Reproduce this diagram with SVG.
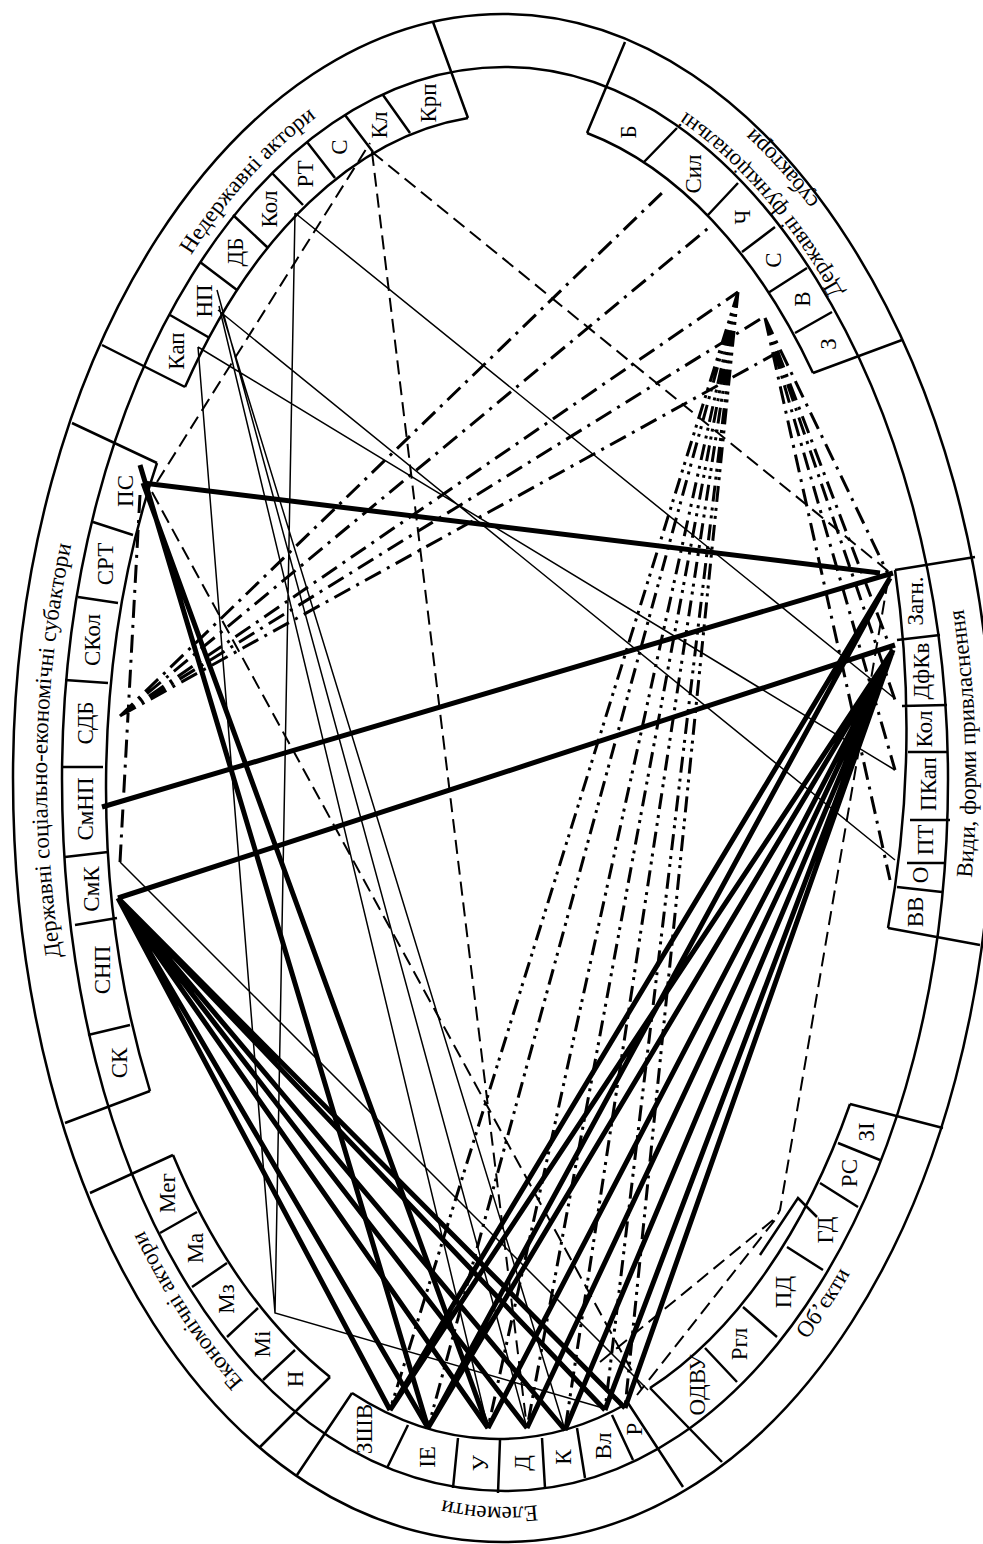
<svg xmlns="http://www.w3.org/2000/svg" width="983" height="1544" viewBox="0 0 983 1544">
<style>
.ol{fill:none;stroke:#000;stroke-width:2.5}
.sp{stroke:#000;stroke-width:2.5;fill:none}
text{font-family:"Liberation Serif","Times New Roman",serif;font-size:23px;fill:#000}
.sl{text-anchor:middle}
.th{stroke:#000;stroke-width:5;fill:none}
.tn{stroke:#000;stroke-width:1.5;fill:none}
.da{stroke:#000;stroke-width:2;stroke-dasharray:14 7;fill:none}
.dd{stroke:#000;stroke-width:3;stroke-dasharray:18 7 3 7;fill:none}
.d2{stroke:#000;stroke-width:3;stroke-dasharray:16 6 3 5 3 6;fill:none}
</style>
<defs>
<path id="p1" d="M191,255.3 A452,728 0 0 1 731,148.5"/>
<path id="p2a" d="M843.1,292.6 A455,727 0 0 0 349.4,95.8"/>
<path id="p2b" d="M819.3,201.8 A485,758 0 0 0 339.1,66.7"/>
<path id="p3" d="M60.9,957 A458,728 0 0 1 129.8,361.4"/>
<path id="p4" d="M243.6,1381.7 A458,734 0 0 1 48.7,843"/>
<path id="p5" d="M537.3,1505.1 A452,728 0 0 1 158.8,1247"/>
<path id="p6" d="M807,1339.5 A466,736 0 0 0 963.9,651.2"/>
<path id="p7" d="M971.8,878 A471,739 0 0 0 838,256.5"/>
</defs>
<rect width="983" height="1544" fill="#fff"/>
<g id="frame">
<path class="ol" d="M503,14 C770.1,14 993,361.6 993,778 C993,1209.7 779.9,1542 503,1542 C223.7,1542 13,1213.5 13,778 C13,357.8 233.5,14 503,14 Z"/>
<path class="ol" d="M505,67 C744.2,67 948,394.5 948,779 C948,1177.7 753.1,1491 505,1491 C252.5,1491 62,1184.8 62,779 C62,386 260.5,67 505,67 Z"/>
<path class="sp" d="M72,423 L157,463 M102,345 L185,387 M433,22 L468,118 M625,42 L587,133 M902,340 L813,373 M975,557 L895,570 M980,945 L888,928 M943,1128 L850,1104 M722,1462 L650,1388 M683,1487 L628,1403 M297,1475 L352,1393 M260,1447 L330,1377 M90,1193 L173,1155 M65,1123 L150,1091"/>
</g>
<g id="group-nonstate">
<path class="sp" d="M185,387 A400,665 0 0 1 468,118 M170,315 L208,337 M200,262 L237,290 M233,215 L267,247 M272,173 L303,205 M307,142 L335,178 M345,115 L373,152 M383,95 L410,133"/>
<text class="sl" transform="translate(176,351) rotate(-90)" dy="0.35em">Кап</text>
<text class="sl" transform="translate(204,301) rotate(-90)" dy="0.35em">НП</text>
<text class="sl" transform="translate(235,252) rotate(-90)" dy="0.35em">ДБ</text>
<text class="sl" transform="translate(269,209) rotate(-90)" dy="0.35em">Кол</text>
<text class="sl" transform="translate(305,174) rotate(-90)" dy="0.35em">РТ</text>
<text class="sl" transform="translate(339,147) rotate(-90)" dy="0.35em">С</text>
<text class="sl" transform="translate(379,125) rotate(-90)" dy="0.35em">Кл</text>
<text class="sl" transform="translate(428,103) rotate(-90)" dy="0.35em">Крп</text>
<text><textPath href="#p1">Недержавні актори</textPath></text>
</g>
<g id="group-statefunc">
<path class="sp" d="M587,133 A400,665 0 0 1 813,373 M643,163 L677,128 M708,215 L738,183 M742,252 L775,227 M768,293 L807,268 M795,333 L832,312"/>
<text class="sl" transform="translate(628,132) rotate(-90)" dy="0.35em">Б</text>
<text class="sl" transform="translate(693,174) rotate(-90)" dy="0.35em">Сил</text>
<text class="sl" transform="translate(742,217) rotate(-90)" dy="0.35em">Ч</text>
<text class="sl" transform="translate(773,260) rotate(-90)" dy="0.35em">С</text>
<text class="sl" transform="translate(802,299) rotate(-90)" dy="0.35em">В</text>
<text class="sl" transform="translate(828,344) rotate(-90)" dy="0.35em">З</text>
<text><textPath href="#p2a">Державні функціональні</textPath><textPath href="#p2b">субактори</textPath></text>
</g>
<g id="group-stateso">
<path class="sp" d="M150,1091 A400,665 0 0 1 157,463 M93,522 L133,535 M78,597 L118,603 M65,680 L108,683 M62,767 L103,767 M65,857 L108,852 M75,925 L117,918 M88,1035 L130,1025"/>
<text class="sl" transform="translate(125,491) rotate(-90)" dy="0.35em">ПС</text>
<text class="sl" transform="translate(105,564) rotate(-90)" dy="0.35em">СРТ</text>
<text class="sl" transform="translate(92,640) rotate(-90)" dy="0.35em">СКол</text>
<text class="sl" transform="translate(85,723) rotate(-90)" dy="0.35em">СДБ</text>
<text class="sl" transform="translate(85,809) rotate(-90)" dy="0.35em">СмНП</text>
<text class="sl" transform="translate(91,889) rotate(-90)" dy="0.35em">СмК</text>
<text class="sl" transform="translate(102,970) rotate(-90)" dy="0.35em">СНП</text>
<text class="sl" transform="translate(119,1063) rotate(-90)" dy="0.35em">СК</text>
<text><textPath href="#p3">Державні соціально-економічні субактори</textPath></text>
</g>
<g id="group-econ">
<path class="sp" d="M330,1377 A400,665 0 0 1 173,1155 M160,1233 L197,1212 M192,1287 L227,1263 M227,1337 L258,1308 M263,1380 L295,1350"/>
<text class="sl" transform="translate(167,1193) rotate(-90)" dy="0.35em">Мег</text>
<text class="sl" transform="translate(195,1248) rotate(-90)" dy="0.35em">Ма</text>
<text class="sl" transform="translate(226,1299) rotate(-90)" dy="0.35em">Мз</text>
<text class="sl" transform="translate(262,1344) rotate(-90)" dy="0.35em">Мі</text>
<text class="sl" transform="translate(295,1379) rotate(-90)" dy="0.35em">Н</text>
<text><textPath href="#p4">Економічні актори</textPath></text>
</g>
<g id="group-elements">
<path class="sp" d="M628,1403 A400,665 0 0 1 352,1393 M387,1468 L408,1425 M453,1488 L458,1438 M498,1493 L500,1440 M545,1488 L542,1438 M585,1478 L577,1428 M633,1460 L612,1415"/>
<text class="sl" transform="translate(364,1429) rotate(-90)" dy="0.35em">ЗШВ</text>
<text class="sl" transform="translate(427,1457) rotate(-90)" dy="0.35em">ІЕ</text>
<text class="sl" transform="translate(480,1463) rotate(-90)" dy="0.35em">У</text>
<text class="sl" transform="translate(522,1463) rotate(-90)" dy="0.35em">Д</text>
<text class="sl" transform="translate(563,1457) rotate(-90)" dy="0.35em">К</text>
<text class="sl" transform="translate(603,1446) rotate(-90)" dy="0.35em">Вл</text>
<text class="sl" transform="translate(634,1429) rotate(-90)" dy="0.35em">Р</text>
<text><textPath href="#p5">Елементи</textPath></text>
</g>
<g id="group-objects">
<path class="sp" d="M850,1104 A400,665 0 0 1 650,1388 M737,1382 L705,1348 M777,1337 L743,1307 M823,1270 L787,1247 M858,1207 L820,1183 M880,1160 L838,1143 M760,1255 L798,1198 L817,1217"/>
<text class="sl" transform="translate(697,1385) rotate(-90)" dy="0.35em">ОДВУ</text>
<text class="sl" transform="translate(739,1344) rotate(-90)" dy="0.35em">Ргл</text>
<text class="sl" transform="translate(783,1292) rotate(-90)" dy="0.35em">ПД</text>
<text class="sl" transform="translate(825,1230) rotate(-90)" dy="0.35em">ГД</text>
<text class="sl" transform="translate(849,1173) rotate(-90)" dy="0.35em">РС</text>
<text class="sl" transform="translate(866,1132) rotate(-90)" dy="0.35em">ЗІ</text>
<text><textPath href="#p6">Об’єкти</textPath></text>
</g>
<g id="group-forms">
<path class="sp" d="M895,570 A400,665 0 0 1 888,928 M897,640 L940,635 M902,706 L947,705 M908,752 L948,752 M910,820 L950,820 M907,863 L945,863 M897,887 L942,892"/>
<text class="sl" transform="translate(915,601) rotate(-90)" dy="0.35em">Загн.</text>
<text class="sl" transform="translate(921,671) rotate(-90)" dy="0.35em">ДфКв</text>
<text class="sl" transform="translate(924,729) rotate(-90)" dy="0.35em">Кол</text>
<text class="sl" transform="translate(928,784) rotate(-90)" dy="0.35em">ПКап</text>
<text class="sl" transform="translate(925,840) rotate(-90)" dy="0.35em">ПТ</text>
<text class="sl" transform="translate(920,875) rotate(-90)" dy="0.35em">О</text>
<text class="sl" transform="translate(915,912) rotate(-90)" dy="0.35em">ВВ</text>
<text><textPath href="#p7">Види, форми привласнення</textPath></text>
</g>
<g id="connectors">
<path class="th" d="M143,483 L880,573 M102,807 L893,573 M118,898 L895,645"/>
<path class="th" d="M118,898 L390,1410 M118,898 L428,1428 M118,898 L488,1428 M118,898 L527,1428 M118,898 L565,1430 M118,898 L605,1410 M118,898 L625,1408"/>
<path class="th" d="M893,650 L390,1410 M893,650 L428,1428 M893,650 L488,1428 M893,650 L527,1428 M893,650 L565,1430 M893,650 L605,1410 M893,650 L625,1408 M890,578 L390,1410 M890,578 L428,1428"/>
<path class="th" d="M140,465 L428,1428 M143,483 L488,1428"/>
<path class="tn" d="M198,347 L275,1313 L603,1408 M295,213 L275,1313 M217,290 L527,1428 M219,306 L488,1428 M222,312 L565,1430 M218,310 L895,860 M198,347 L895,770 M295,213 L893,697 M120,862 L648,1390"/>
<path class="da" d="M157,482 L370,143 M372,152 L527,1428 M372,152 L893,575 M152,492 L645,1395 M888,580 L780,1210 L775,1220 L637,1395 M773,1220 L600,1362"/>
<path class="dd" d="M120,716 L665,190 M120,716 L712,225 M120,716 L738,292 M120,716 L762,318 M120,716 L782,350 M140,495 L120,862"/>
<path class="d2" d="M738,292 L390,1410 M738,292 L428,1428 M738,292 L488,1428 M738,292 L527,1428 M738,292 L565,1430 M738,292 L605,1410 M738,292 L625,1408"/>
<path class="dd" d="M765,318 L890,578 M765,318 L893,655 M765,318 L895,700 M765,318 L895,770 M765,318 L890,880"/>
</g>
</svg>
